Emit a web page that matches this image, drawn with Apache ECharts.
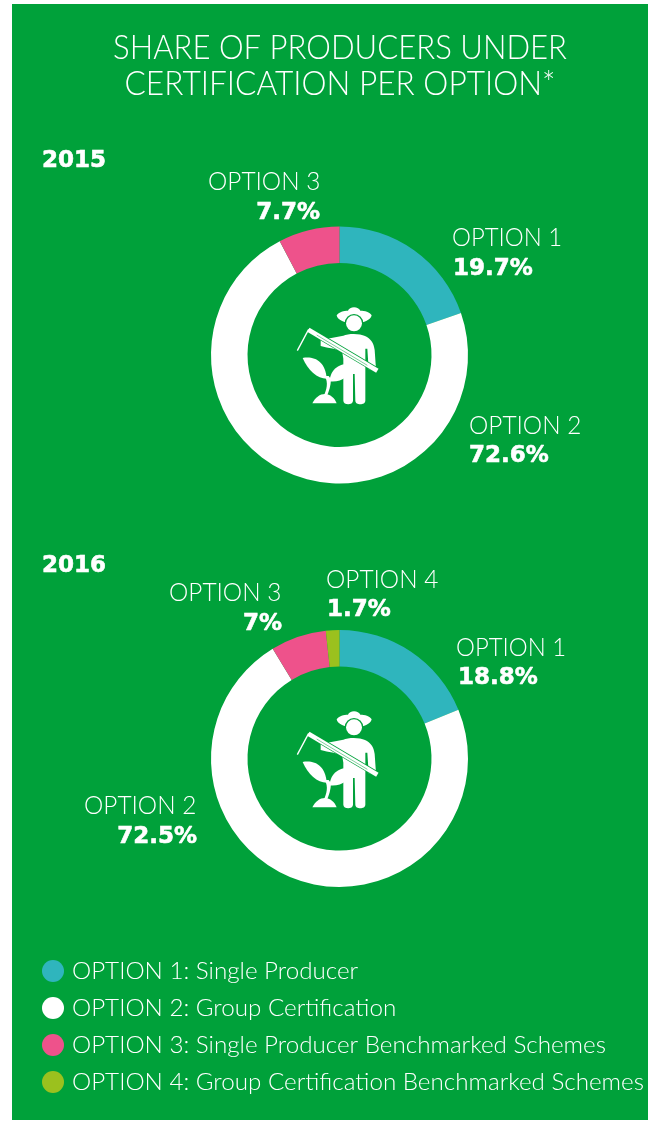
<!DOCTYPE html>
<html><head><meta charset="utf-8">
<style>html,body{margin:0;padding:0;background:#fff}#c{width:648px;height:1121px}</style>
<script src="https://cdn.jsdelivr.net/npm/echarts@6/dist/echarts.min.js"></script>
</head><body><div id="c"></div>
<script>
const optionNames = ['OPTION 1: Single Producer','OPTION 2: Group Certification','OPTION 3: Single Producer Benchmarked Schemes','OPTION 4: Group Certification Benchmarked Schemes'];
const shortNames = ['OPTION 1','OPTION 2','OPTION 3','OPTION 4'];
const colors = ['#2FB5BD','#FFFFFF','#EE528B','#9BC11E'];
const values2015 = [19.7,72.6,7.7];
const values2016 = [18.8,72.5,7,1.7];
const titleLines = ['SHARE OF PRODUCERS UNDER','CERTIFICATION PER OPTION*'];
const GREEN = '#00A13A', FONT = 'Lato', W='#fff';

const iconPaths = {
  hat:'M170 76 C176 66 192 62 204 62 C208 48 236 48 241 62 C254 62 270 66 275 76 C272 90 252 100 222 100 C194 100 172 90 170 76 Z',
  body:'M122 150 L190 137 C205 130 240 130 255 138 C272 146 281 158 284 180 L288 238 L266 238 L262 176 L256 176 L256 332 C256 346 226 346 226 332 L224 252 L219 252 L219 332 C219 346 190 346 190 332 L190 206 L186 182 C170 178 146 174 122 168 Z',
  leafA:'M68 204 C104 198 136 214 140 266 C112 266 84 242 68 204 Z',
  leafB:'M224 222 C190 218 154 226 148 274 C184 278 210 260 224 222 Z',
  stem:'M134 258 C146 278 140 300 130 320 L140 320 C148 302 152 288 153 268 L146 258 Z',
  mound:'M97 340 C106 322 120 312 135 312 C150 312 164 324 170 340 Z'
};
Object.keys(iconPaths).forEach(k=>echarts.graphic.registerShape('icon_'+k,echarts.graphic.extendPath(iconPaths[k],{})));

function pie(values, cy){
  return {type:'pie',center:[339.5,cy],radius:[92,128.5],startAngle:90,clockwise:true,animation:false,silent:true,
    label:{show:false},labelLine:{show:false},itemStyle:{borderWidth:0},
    data:values.map((v,i)=>({name:optionNames[i],value:v,itemStyle:{color:colors[i]}}))};
}
function txt(x,y,t,o,sx){return {type:'text',x,y,z:5,scaleX:sx||1,style:Object.assign({text:t,fill:W,font:'300 24.5px '+FONT,textAlign:'left',textVerticalAlign:'middle'},o||{})}}
const BOLD={font:'bold 23px "DejaVu Sans"',stroke:W,lineWidth:0.6};
function lab(x,y,i,val,vx,vy,right){
  return [txt(x,y+1,shortNames[i],null,i===0?0.975:0.995),txt(vx,vy+3,val+'%',Object.assign({},BOLD,{textAlign:right?'right':'left'}))];
}
function icon(dy){
  const s={fill:W};
  const order=['hat','body','leafA','leafB','stem','mound'];
  return {type:'group',x:280,y:290+dy,scaleX:1/3,scaleY:1/3,z:5,children:[
    ...order.map(k=>({type:'icon_'+k,style:s,z:5})),
    {type:'circle',z:6,shape:{cx:222,cy:100,r:28},style:{fill:GREEN}},
    {type:'circle',z:7,shape:{cx:222,cy:100,r:24},style:s},
    {type:'line',z:6,shape:{x1:85,y1:119,x2:292,y2:242},style:{stroke:GREEN,lineWidth:18}},
    {type:'line',z:7,shape:{x1:85,y1:119,x2:292,y2:242},style:{stroke:W,lineWidth:14}},
    {type:'line',z:8,shape:{x1:110,y1:135,x2:262,y2:226},style:{stroke:GREEN,lineWidth:1.5}},
    {type:'line',z:7,shape:{x1:86,y1:118,x2:52,y2:182},style:{stroke:W,lineWidth:4}}
  ]};
}
const graphic=[
  {type:'rect',shape:{x:12,y:4,width:636,height:1116},style:{fill:GREEN},z:-10},
  txt(340,48,titleLines[0],{font:'300 34px '+FONT,textAlign:'center'},0.915),
  txt(340,84,titleLines[1],{font:'300 34px '+FONT,textAlign:'center'},0.93),
  txt(42,161,'2015',BOLD),
  txt(42,566,'2016',BOLD),
  ...lab(208,181,2,values2015[2],320,210,true),
  ...lab(452,237,0,values2015[0],453,266),
  ...lab(469,425,1,values2015[1],469,453),
  ...lab(169,592,2,values2016[2],282,621,true),
  ...lab(326,579,3,values2016[3],327,607),
  ...lab(456,647,0,values2016[0],458,675),
  ...lab(84,805,1,values2016[1],197,834,true),
  icon(0),icon(404)
];
const chart=echarts.init(document.getElementById('c'),null,{renderer:'canvas'});
chart.setOption({animation:false,
  legend:{orient:'vertical',left:42,top:959,padding:0,itemWidth:22,itemHeight:22,itemGap:13,icon:'circle',selectedMode:false,
    data:optionNames,textStyle:{color:W,fontFamily:FONT,fontWeight:300,fontSize:24.2,padding:[0,0,0,3]}},
  series:[pie(values2015,355),pie(values2016,758.5)],
  graphic
});
</script></body></html>
